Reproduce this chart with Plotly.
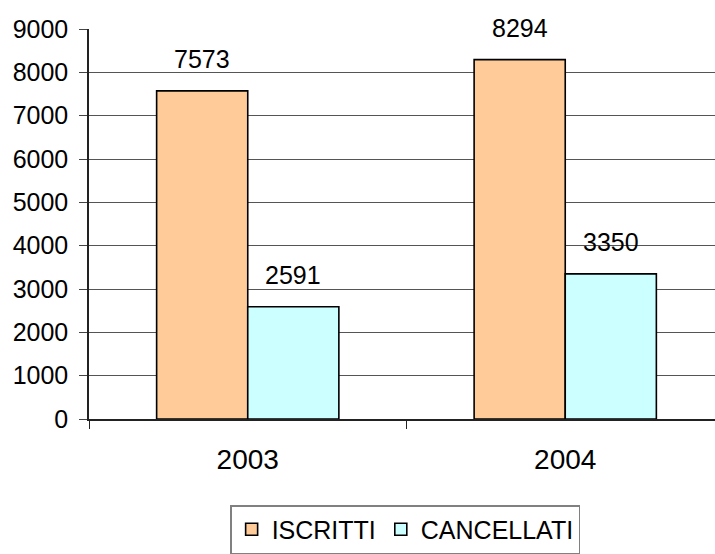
import plotly.graph_objects as go

# Iscritti / cancellati per anno
years = ["2003", "2004"]
iscritti = [7573, 8294]
cancellati = [2591, 3350]
series_names = ["ISCRITTI", "CANCELLATI"]
series_colors = ["#FFCC99", "#CCFFFF"]
y_ticks = [0, 1000, 2000, 3000, 4000, 5000, 6000, 7000, 8000, 9000]

FONT = "Liberation Sans, Arial, sans-serif"
BARGAP = 0.426

fig = go.Figure()
for name, vals, col in zip(series_names, [iscritti, cancellati], series_colors):
    fig.add_trace(go.Bar(
        x=years, y=vals, name=name,
        marker=dict(color=col, line=dict(color="black", width=1.6)),
    ))

# value labels above each bar
bar_w = (1 - BARGAP) / 2
for k, vals in enumerate([iscritti, cancellati]):
    off = (k - 0.5) * bar_w
    for j, v in enumerate(vals):
        fig.add_annotation(
            x=j + off, y=v, text=str(v), showarrow=False,
            yanchor="bottom", yshift=16,
            font=dict(family=FONT, size=25, color="black"),
        )

fig.update_layout(
    width=715, height=554,
    margin=dict(l=89, r=0, t=29, b=132),
    paper_bgcolor="white", plot_bgcolor="white",
    barmode="group", bargap=BARGAP, bargroupgap=0,
    font=dict(family=FONT, color="black"),
    showlegend=True,
    legend=dict(
        orientation="h", x=0.505, xanchor="center", y=-0.221, yanchor="top",
        bordercolor="#808080", borderwidth=1.5,
        font=dict(family=FONT, size=25, color="black"),
        itemwidth=30, traceorder="normal",
    ),
)
fig.update_xaxes(
    type="category", range=[-0.5, 1.4717],
    showline=True, linecolor="#222", linewidth=2,
    ticks="outside", tickson="boundaries", ticklen=8, tickcolor="#222",
    tickfont=dict(family=FONT, size=28, color="black"),
    ticklabelstandoff=14,
    showgrid=False,
)
fig.update_yaxes(
    range=[0, 9000], tickvals=y_ticks,
    showline=True, linecolor="#222", linewidth=1.5,
    ticks="outside", ticklen=8, tickcolor="#444",
    tickfont=dict(family=FONT, size=25, color="black"),
    ticklabelstandoff=6,
    showgrid=True, gridcolor="#555", gridwidth=1,
    zeroline=False,
)

fig.write_html("out.html")
